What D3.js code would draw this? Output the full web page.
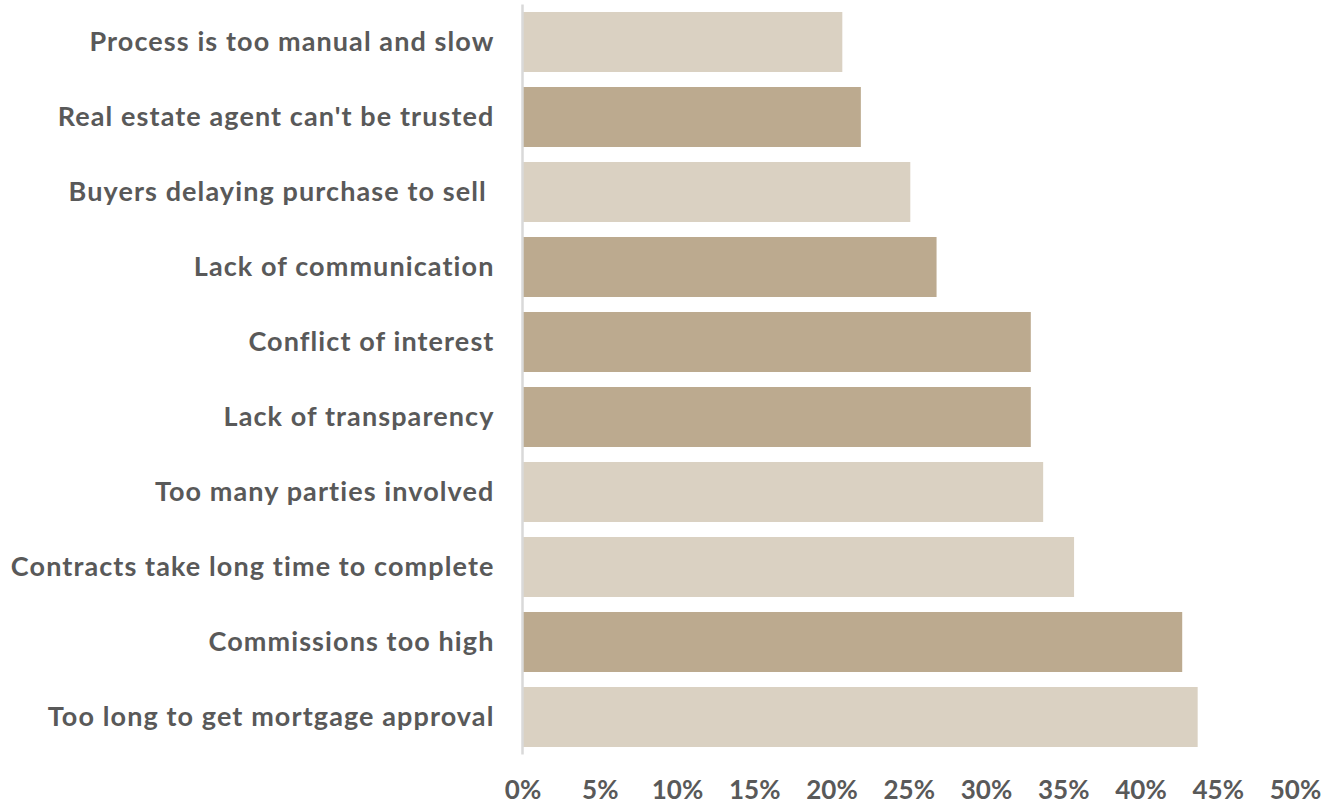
<!DOCTYPE html>
<html>
<head>
<meta charset="utf-8">
<script src="https://cdn.jsdelivr.net/npm/d3@7"></script>
<style>
  html, body { margin: 0; padding: 0; background: #ffffff; }
  svg { display: block; }
</style>
</head>
<body>
<svg id="chart" width="1324" height="805"></svg>
<script>
// Reasons cited, top to bottom
const categories = [
  "Process is too manual and slow",
  "Real estate agent can't be trusted",
  "Buyers delaying purchase to sell ",
  "Lack of communication",
  "Conflict of interest",
  "Lack of transparency",
  "Too many parties involved",
  "Contracts take long time to complete",
  "Commissions too high",
  "Too long to get mortgage approval"
];
// Share of respondents (%)
const values = [20.7, 21.9, 25.1, 26.8, 32.9, 32.9, 33.7, 35.7, 42.7, 43.7];
// Shade group per bar: "dark" or "light"
const shades = ["light", "dark", "light", "dark", "dark", "dark", "light", "light", "dark", "light"];
const tickValues = [0, 5, 10, 15, 20, 25, 30, 35, 40, 45, 50];

const colors = { light: "#DAD1C2", dark: "#BCAA8F" };
const textColor = "#595959";

const svg = d3.select("#chart");

const x = d3.scaleLinear().domain([0, 50]).range([522.5, 1295]);
const y = d3.scaleBand().domain(categories).range([4.5, 754.5]).paddingInner(0.2).paddingOuter(0.1);

// Bars
svg.append("g")
  .selectAll("rect")
  .data(categories)
  .join("rect")
  .attr("x", x(0))
  .attr("y", d => y(d))
  .attr("width", (d, i) => x(values[i]) - x(0))
  .attr("height", y.bandwidth())
  .attr("fill", (d, i) => colors[shades[i]]);

// Category axis (vertical line with labels)
const yAxis = svg.append("g")
  .attr("transform", `translate(${x(0)},0)`)
  .call(d3.axisLeft(y).tickSize(0).tickPadding(28));
yAxis.select(".domain").attr("stroke", "#D9D9D9").attr("stroke-width", 2.5)
  .attr("d", `M0,${y.range()[0]}V${y.range()[1]}`);
yAxis.selectAll("text")
  .attr("fill", textColor)
  .attr("dy", "0.35em")
  .style("font-family", "Lato, 'Open Sans', sans-serif")
  .style("font-weight", 700)
  .style("font-size", "27px")
  .style("letter-spacing", "1.1px")
  .style("white-space", "pre");

// Value axis labels along the bottom
const xAxis = svg.append("g")
  .attr("transform", "translate(0,775)")
  .call(d3.axisBottom(x).tickValues(tickValues).tickSize(0).tickPadding(0).tickFormat(d => d + "%"));
xAxis.select(".domain").remove();
xAxis.selectAll("text")
  .attr("fill", textColor)
  .attr("dy", "0")
  .attr("y", 24)
  .style("font-family", "Lato, 'Open Sans', sans-serif")
  .style("font-weight", 700)
  .style("font-size", "26px");
</script>
</body>
</html>
